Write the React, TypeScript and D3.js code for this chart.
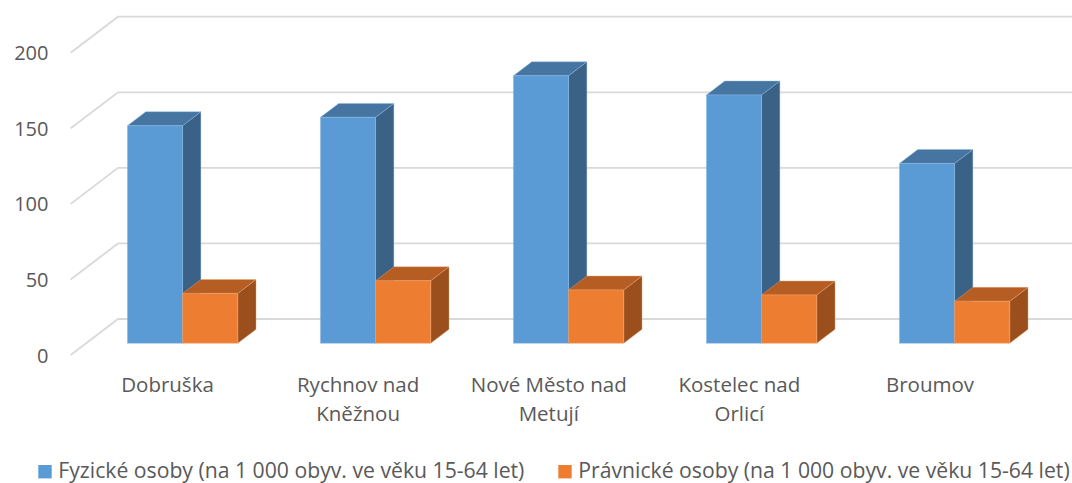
import React from "react";
import * as d3 from "d3";

const categories = ["Dobruška", "Rychnov nad|Kněžnou", "Nové Město nad|Metují", "Kostelec nad|Orlicí", "Broumov"];
const seriesNames = [
  "Fyzické osoby (na 1 000 obyv. ve věku 15-64 let)",
  "Právnické osoby (na 1 000 obyv. ve věku 15-64 let)",
];
const fyzicke = [144, 149.5, 177, 164.3, 119];
const pravnicke = [33, 41.4, 35.3, 32, 27.8];
const yTicks = [0, 50, 100, 150, 200];

const W = 1072;
const H = 483;
const FONT = "'Open Sans', 'Noto Sans', sans-serif";
const TXT = "#595959";

const colors = [
  { front: "#5B9BD5", top: "#4675A2", side: "#3A6186", edge: "#8DB9E3" },
  { front: "#ED7D31", top: "#B55D22", side: "#9A4F1D", edge: "#F3A772" },
];

// oblique depth vector (full depth of the plot)
const DX = 47.3;
const DY = -36;
const T0 = 0.325;
const T1 = 0.712;

export default function App() {
  const x = d3.scaleBand<string>().domain(categories).range([70.7, 1035.7]).paddingInner(0).paddingOuter(0);
  const sub = d3.scaleBand<number>().domain([0, 1]).range([0, x.step()]).paddingInner(0).paddingOuter(0.75);
  const y = d3.scaleLinear().domain([0, 200]).range([355, 52.7]);
  const labelX = d3.scaleLinear().domain([0, categories.length - 1]).range([167.5, 930]);

  const P = (px: number, v: number, t: number) => [px + t * DX, y(v) + t * DY];
  const poly = (pts: number[][]) => pts.map((p) => p.join(",")).join(" ");

  const series = [fyzicke, pravnicke];

  const bars: React.ReactNode[] = [];
  categories.forEach((c, i) => {
    series.forEach((vals, s) => {
      const v = vals[i];
      const x1 = (x(c) as number) + (sub(s) as number);
      const x2 = x1 + sub.bandwidth();
      const col = colors[s];
      const front = [P(x1, 0, T0), P(x2, 0, T0), P(x2, v, T0), P(x1, v, T0)];
      const top = [P(x1, v, T0), P(x2, v, T0), P(x2, v, T1), P(x1, v, T1)];
      const side = [P(x2, v, T0), P(x2, 0, T0), P(x2, 0, T1), P(x2, v, T1)];
      bars.push(
        <g key={`${i}-${s}`}>
          <polygon points={poly(side)} fill={col.side} stroke={col.edge} strokeOpacity={0.5} strokeWidth={0.8} />
          <polygon points={poly(top)} fill={col.top} stroke={col.edge} strokeOpacity={0.5} strokeWidth={0.8} />
          <polygon points={poly(front)} fill={col.front} stroke={col.edge} strokeOpacity={0.6} strokeWidth={0.8} />
        </g>
      );
    });
  });

  return (
    <svg width={W} height={H} style={{ position: "absolute", left: 0, top: 0, background: "#fff" }} fontFamily={FONT}>
      {yTicks.map((t) => {
        const a = P(70.7, t, 0);
        const b = P(70.7, t, 1);
        return (
          <g key={t}>
            <polyline points={poly([a, b, [W, b[1]]])} fill="none" stroke="#D9D9D9" strokeWidth={1.8} />
            <text x={48.5} y={a[1]} textAnchor="end" dominantBaseline="central" fill={TXT} fontSize={20}>
              {t}
            </text>
          </g>
        );
      })}
      {bars}
      {categories.map((c, i) => (
        <text key={c} textAnchor="middle" fill={TXT} fontSize={20.5}>
          {c.split("|").map((line, j) => (
            <tspan key={j} x={labelX(i)} y={391.7 + j * 29.3}>
              {line}
            </tspan>
          ))}
        </text>
      ))}
      {seriesNames.map((n, s) => {
        const lx = [38.3, 558.3][s];
        return (
          <g key={n}>
            <rect x={lx} y={465} width={13.4} height={13.4} fill={colors[s].front} />
            <text x={lx + 20} y={478} fill={TXT} fontSize={21.2}>
              {n}
            </text>
          </g>
        );
      })}
    </svg>
  );
}
